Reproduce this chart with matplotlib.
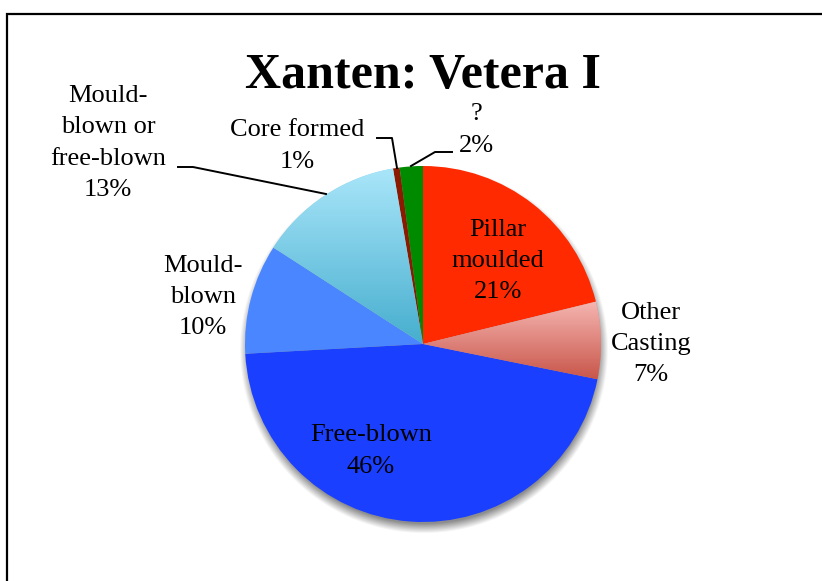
import numpy as np
import matplotlib.pyplot as plt
from matplotlib.colors import LinearSegmentedColormap
from matplotlib.patches import Rectangle

# Xanten: Vetera I - glass production techniques (share of vessels)
categories = ['Pillar\nmoulded', 'Other\nCasting', 'Free-blown', 'Mould-\nblown',
              'Mould-\nblown or\nfree-blown', 'Core formed', '?']
values = [21.2, 7.0, 46.0, 10.0, 13.2, 0.6, 2.1]
colors = ['#FF2A00', '#E08A84', '#1A3FFF', '#4A86FF', '#86D0EA', '#8B1A00', '#008A00']
# top -> bottom colours for the shaded wedges
gradients = {1: ('#F6B6B2', '#C8564A'), 4: ('#AAE6FA', '#46AECE')}

W, H = 822, 581
cx, cy, R = 423, H - 344, 178

fig = plt.figure(figsize=(W / 100, H / 100), dpi=100)
ax = fig.add_axes([0, 0, 1, 1])

# frame around the chart area
ax.add_patch(Rectangle((7, -20), W + 20, H - 14 + 20, fill=False, lw=1.6, ec='black', zorder=0))

# soft shadow under the pie
yy, xx = np.mgrid[0:H, 0:W]
d = np.hypot(xx - cx, (H - yy) - (cy - 5)) - (R - 1)
shadow = np.clip(1 - (d + 3) / 10, 0, 1) * 0.45
img = np.zeros((H, W, 4))
img[..., 3] = shadow
ax.imshow(img, extent=(0, W, 0, H), origin='upper', zorder=1, interpolation='bilinear')

wedges, _ = ax.pie(values, colors=colors, startangle=90, counterclock=False,
                   center=(cx, cy), radius=R, frame=True,
                   wedgeprops=dict(lw=0))
ax.set_xlim(0, W)
ax.set_ylim(0, H)
ax.set_aspect('equal')
ax.axis('off')
for w in wedges:
    w.set_zorder(2)

# vertical gradients clipped to their wedge
for i, (c_top, c_bot) in gradients.items():
    w = wedges[i]
    ext = w.get_path().get_extents()
    cmap = LinearSegmentedColormap.from_list('g%d' % i, [c_top, c_bot])
    grad = np.linspace(0, 1, 256).reshape(-1, 1)
    im = ax.imshow(grad, cmap=cmap, aspect='auto', origin='upper',
                   extent=(ext.x0, ext.x1, ext.y0, ext.y1), zorder=3)
    im.set_clip_path(w)

fam = ['Liberation Serif', 'DejaVu Serif']
ax.text(423, H - 88, 'Xanten: Vetera I', ha='center', va='baseline',
        fontsize=36, fontweight='bold', family=fam, zorder=5)

total = sum(values)
label_pos = [(498, 261), (651, 344), (371, 451), (203, 297),
             (108, 143), (297, 146), (476, 130)]
for name, v, (x, y) in zip(categories, values, label_pos):
    ax.text(x, H - y, '%s\n%d%%' % (name, round(v / total * 100)),
            ha='center', va='center', fontsize=19, family=fam,
            linespacing=1.55, zorder=5)

# leader lines for the outside labels
leaders = [
    [(411, 166), (435, 152), (452, 152)],
    [(377, 138), (392, 138), (397, 168)],
    [(178, 167), (193, 167), (326, 194)],
]
for pts in leaders:
    px, py = zip(*pts)
    ax.plot(px, [H - p for p in py], color='black', lw=1.4, zorder=6)

fig.savefig('out.png', dpi=100)
